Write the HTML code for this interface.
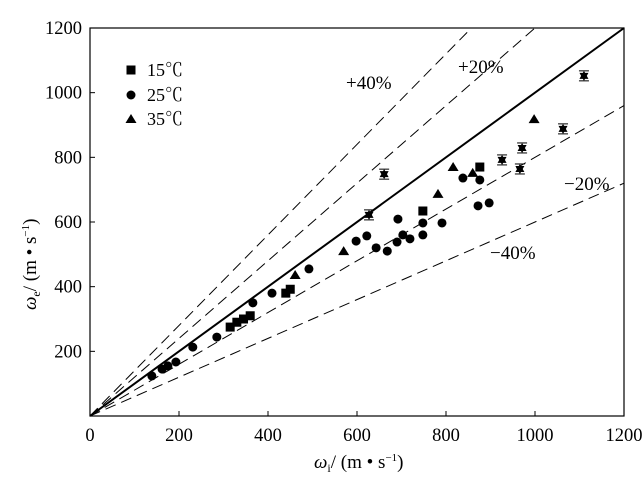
<!DOCTYPE html>
<html><head><meta charset="utf-8"><style>
html,body{margin:0;padding:0;background:#fff;}
svg text{font-family:"Liberation Serif","Noto Serif CJK SC",serif;fill:#000;}
</style></head><body>
<svg id="chart" width="642" height="476" viewBox="0 0 642 476" xmlns="http://www.w3.org/2000/svg"></svg>
<script>
const xTicks=[0,200,400,600,800,1000,1200];
const yTicks=[200,400,600,800,1000,1200];
const refRatios=[1.4,1.2,1.0,0.8,0.6];
const refLabels=["+40%","+20%","","−20%","−40%"];
const s15x=[315,330,345,360,440,450,748,876];
const s15y=[275,290,300,310,380,392,634,770];
const s25x=[139,162,175,193,231,285,366,409,492,598,622,643,668,690,692,703,719,748,748,791,838,876,872,897];
const s25y=[124,145,155,167,213,244,350,380,455,541,557,520,510,538,609,560,548,560,597,597,736,730,650,659];
const s35x=[461,782,816,860,998,570];
const s35y=[436,687,770,752,918,510];
const sErrX=[627,661,926,966,971,1063,1110];
const sErrY=[622,748,792,764,829,888,1052];
const X0=90,X1=624,Y0=416,Y1=28;
const sx=v=>X0+(X1-X0)*v/1200, sy=v=>Y0-(Y0-Y1)*v/1200;
const svg=document.getElementById('chart');
const NS='http://www.w3.org/2000/svg';
function mk(t,a,p){const e=document.createElementNS(NS,t);for(const k in a)e.setAttribute(k,a[k]);(p||svg).appendChild(e);return e;}
let fr=mk('rect',{x:X0,y:Y1,width:X1-X0,height:Y0-Y1,fill:'none',stroke:'#000','stroke-width':1.2});


xTicks.forEach(v=>{
 let l=mk('line',{x1:sx(v),x2:sx(v),y1:Y0,y2:Y0-5,stroke:'#000'});
 
 
 let t=mk('text',{x:sx(v),y:Y0+25,'text-anchor':'middle','font-size':18.5});
 t.textContent=v;
 
 
});
yTicks.forEach(v=>{
 let l=mk('line',{x1:X0,x2:X0+5,y1:sy(v),y2:sy(v),stroke:'#000'});
 
 
 let t=mk('text',{x:X0-8,y:sy(v)+6,'text-anchor':'end','font-size':18.5});
 t.textContent=v;
 
 
});
refRatios.forEach((r,i)=>{
 const xe=Math.min(1200,1200/r);
 let l=mk('line',{x1:sx(0),y1:sy(0),x2:sx(xe),y2:sy(xe*r),stroke:'#000','stroke-width':r===1?2:1,'stroke-dasharray':r===1?'none':'11,6'});
 
 
});
const labPos=[[346,89],[458,73],null,[564,190],[490,259]];
refLabels.forEach((s,i)=>{if(!s)return;
 let t=mk('text',{x:labPos[i][0],y:labPos[i][1],'font-size':19});
 t.textContent=s;
 
 
});
function square(x,y){let e=mk('rect',{x:x-4.5,y:y-4.5,width:9,height:9,fill:'#000'});}
function circle(x,y){let e=mk('circle',{cx:x,cy:y,r:4.5,fill:'#000'});}
function tri(x,y){let e=mk('polygon',{points:`${x},${y-5} ${x-5.5},${y+4} ${x+5.5},${y+4}`,fill:'#000'});}
function errpt(x,y){let g=mk('g',{});
 mk('polygon',{points:`${x},${y-5} ${x-4.5},${y+3} ${x+4.5},${y+3}`,fill:'#000'},g);
 mk('polygon',{points:`${x},${y+5} ${x-4.5},${y-3} ${x+4.5},${y-3}`,fill:'#000'},g);
 mk('line',{x1:x-5,x2:x+5,y1:y-5,y2:y-5,stroke:'#000'},g);
 mk('line',{x1:x-5,x2:x+5,y1:y+5,y2:y+5,stroke:'#000'},g);}
s15x.forEach((v,i)=>square(sx(v),sy(s15y[i])));
s25x.forEach((v,i)=>circle(sx(v),sy(s25y[i])));
s35x.forEach((v,i)=>tri(sx(v),sy(s35y[i])));
sErrX.forEach((v,i)=>errpt(sx(v),sy(sErrY[i])));
const lg=mk('g',{});
square(131,70);circle(131,95);tri(131,119);
[["15℃",70],["25℃",95],["35℃",119]].forEach(([s,y])=>{let t=mk('text',{x:147,y:y+6,'font-size':18},lg);t.textContent=s;});
let xt=mk('text',{x:314,y:468,'font-size':19});xt.innerHTML='<tspan font-style="italic">ω</tspan><tspan font-size="12" dy="4">i</tspan><tspan dy="-4">/ (m • s</tspan><tspan font-size="11" dy="-7">−1</tspan><tspan dy="7">)</tspan>';

let yt=mk('text',{x:0,y:0,'font-size':19,transform:'translate(36,310) rotate(-90)'});yt.innerHTML='<tspan font-style="italic">ω</tspan><tspan font-size="12" dy="4">e</tspan><tspan dy="-4">/ (m • s</tspan><tspan font-size="11" dy="-7">−1</tspan><tspan dy="7">)</tspan>';

</script>
</body></html>
